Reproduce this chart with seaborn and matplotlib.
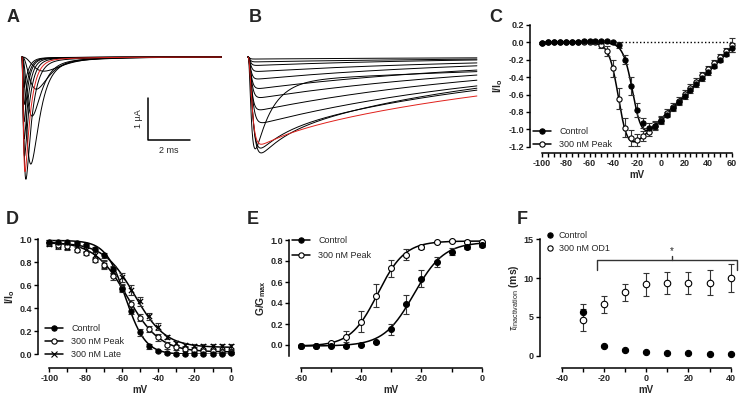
import numpy as np
import pandas as pd
import matplotlib
matplotlib.use('Agg')
import matplotlib.pyplot as plt
import seaborn as sns
from matplotlib.lines import Line2D

# ---------------- data ----------------
# A: control Na currents (peak amplitude uA, activation / inactivation time constants ms, slow tail)
a_amp = [0.3, 0.7, 1.3, 2.4, 2.8, 2.65, 2.3, 1.9, 1.5, 1.1, 0.7]
a_tm = [0.75, 0.45, 0.28, 0.22, 0.07, 0.05, 0.04, 0.035, 0.03, 0.03, 0.03]
a_th = [0.7, 0.5, 0.4, 0.4, 0.3, 0.28, 0.25, 0.22, 0.2, 0.2, 0.2]
a_slow = [0.15, 0.2, 0.25, 0.3, 0.15, 0.1, 0.08, 0.06, 0.05, 0.04, 0.03]
a_red = 5

# B: currents with 300 nM OD1
b_fast_amp = [0, 0, 0, 0, 0, 0, 0, 0, 0, 2.8, 0.3, 0.7, 0.8]
b_fast_tau = [1, 1, 1, 1, 1, 1, 1, 1, 1, 0.8, 1.5, 1.2, 1.2]
b_slow_amp = [0.05, 0.12, 0.21, 0.36, 0.55, 0.79, 1.02, 1.33, 1.67, 0.6, 2.0, 1.9, 2.0]
b_slow_tau = [12, 12.5, 10, 11.6, 11.3, 11.7, 12.6, 12.4, 12.3, 20, 14.2, 12.4, 11]
b_tm = [0.05, 0.06, 0.07, 0.08, 0.08, 0.09, 0.1, 0.1, 0.12, 0.1, 0.12, 0.13, 0.14]
b_red = 10

# C: I/V
c_v = list(range(-100, 65, 5))
c_ctrl = [-0.01, 0.0, 0.0, 0.01, 0.01, 0.01, 0.01, 0.02, 0.02, 0.02, 0.02,
          0.02, 0.0, -0.03, -0.2, -0.5, -0.78, -0.93, -0.98, -0.96, -0.9,
          -0.83, -0.76, -0.69, -0.62, -0.55, -0.48, -0.41, -0.34, -0.27, -0.2, -0.13, -0.06]
c_ctrl_err = [0.01] * 12 + [0.02, 0.03, 0.05, 0.1, 0.08, 0.06, 0.05, 0.05, 0.04] + [0.03] * 11 + [0.05]
c_peak = [-0.01, 0.0, 0.0, 0.0, 0.01, 0.01, 0.01, 0.01, 0.01, 0.0,
          -0.03, -0.1, -0.3, -0.65, -0.98, -1.1, -1.12, -1.08, -1.03, -0.96, -0.89,
          -0.81, -0.74, -0.67, -0.59, -0.52, -0.45, -0.38, -0.31, -0.24, -0.17, -0.1, -0.03]
c_peak_err = [0.01] * 10 + [0.03, 0.06, 0.1, 0.12, 0.11, 0.09, 0.07, 0.06, 0.05, 0.04, 0.04] + [0.04] * 11 + [0.08]
c_ctrl_fit = dict(g=0.0142, erev=64, v50=-23, k=4)
c_peak_fit = dict(g=0.0138, erev=64, v50=-35, k=4)
c_yticks = [-1.2, -1.0, -0.8, -0.6, -0.4, -0.2, 0.0, 0.2]
c_ylabels = ['-1.2', '-1.0', '-0.8', '-0.6', '-0.4', '-0.2', '0.0', '0.2']

# D: steady-state inactivation
d_v = list(range(-100, 5, 5))
d_ctrl = [0.98, 0.98, 0.98, 0.97, 0.95, 0.92, 0.86, 0.74, 0.57, 0.38, 0.19, 0.07, 0.03,
          0.01, 0.0, 0.0, 0.0, 0.0, 0.0, 0.0, 0.01]
d_ctrl_err = [0.01] * 6 + [0.02, 0.03, 0.03, 0.03, 0.03, 0.02, 0.01] + [0.01] * 8
d_peak = [0.97, 0.95, 0.94, 0.91, 0.88, 0.82, 0.78, 0.68, 0.58, 0.44, 0.32, 0.22, 0.15,
          0.08, 0.06, 0.05, 0.04, 0.03, 0.03, 0.02, 0.02]
d_peak_err = [0.02] * 6 + [0.03] * 8 + [0.02] * 7
d_late = [0.96, 0.94, 0.93, 0.93, 0.91, 0.86, 0.78, 0.72, 0.67, 0.56, 0.46, 0.33, 0.24,
          0.15, 0.1, 0.08, 0.07, 0.07, 0.07, 0.07, 0.07]
d_late_err = [0.02] * 5 + [0.03, 0.04, 0.04, 0.04, 0.04, 0.04, 0.03, 0.03, 0.02, 0.02] + [0.02] * 6
d_ctrl_fit = dict(top=0.99, bottom=0.0, v50=-58, k=5.5)
d_peak_fit = dict(top=0.98, bottom=0.02, v50=-57, k=9)
d_late_fit = dict(top=0.97, bottom=0.06, v50=-53, k=8.5)

# E: conductance-voltage
e_v = list(range(-60, 5, 5))
e_ctrl = [-0.01, -0.01, -0.01, -0.01, 0.0, 0.03, 0.15, 0.39, 0.63, 0.79, 0.89, 0.93, 0.95]
e_ctrl_err = [0.01, 0.01, 0.01, 0.01, 0.01, 0.01, 0.05, 0.09, 0.08, 0.05, 0.03, 0.02, 0.02]
e_peak = [-0.01, -0.01, 0.02, 0.08, 0.22, 0.47, 0.73, 0.86, 0.93, 0.98, 0.99, 0.98, 0.98]
e_peak_err = [0.01, 0.01, 0.01, 0.05, 0.1, 0.11, 0.08, 0.05, 0.02, 0.01, 0.01, 0.01, 0.01]
e_ctrl_fit = dict(top=0.98, bottom=-0.01, v50=-22.5, k=5)
e_peak_fit = dict(top=0.99, bottom=-0.01, v50=-34.5, k=4.5)

unit_ticks = [0.0, 0.2, 0.4, 0.6, 0.8, 1.0]
unit_labels = ['0.0', '0.2', '0.4', '0.6', '0.8', '1.0']

# F: inactivation time constant
f_v = [-30, -20, -10, 0, 10, 20, 30, 40]
f_ctrl = [5.6, 1.2, 0.7, 0.5, 0.4, 0.3, 0.25, 0.25]
f_ctrl_err = [1.0, 0.1, 0.05, 0.05, 0.05, 0.05, 0.05, 0.05]
f_od1 = [4.6, 6.6, 8.2, 9.2, 9.4, 9.4, 9.4, 10.0]
f_od1_err = [1.4, 1.1, 1.1, 1.5, 1.45, 1.4, 1.6, 1.8]
f_sig_x = (-23.5, 43)
f_sig_y = 12.3
f_sig_mid = 12


def iv_fit(v, g, erev, v50, k):
    return g * (v - erev) / (1 + np.exp((v50 - v) / k))


def inact_fit(v, top, bottom, v50, k):
    return bottom + (top - bottom) / (1 + np.exp((v - v50) / k))


def act_fit(v, top, bottom, v50, k):
    return bottom + (top - bottom) / (1 + np.exp((v50 - v) / k))


# ---------------- style ----------------
sns.set_style('ticks')
plt.rcParams['font.family'] = ['Liberation Sans', 'DejaVu Sans']
plt.rcParams['axes.unicode_minus'] = False
plt.rcParams['mathtext.fontset'] = 'custom'
plt.rcParams['mathtext.rm'] = 'Liberation Sans'
plt.rcParams['mathtext.bf'] = 'Liberation Sans:bold'
plt.rcParams['mathtext.it'] = 'Liberation Sans:italic'

W, H = 745, 405
fig = plt.figure(figsize=(W / 100, H / 100), dpi=100)


def place(x0, y0, x1, y1):
    return fig.add_axes([x0 / W, 1 - y1 / H, (x1 - x0) / W, (y1 - y0) / H])


def style_axes(ax, left, bottom):
    sns.despine(ax=ax, offset=dict(left=left, bottom=bottom))
    for s in ['left', 'bottom']:
        ax.spines[s].set_linewidth(1.1)
        ax.spines[s].set_color('black')
    ax.tick_params(which='both', direction='out', length=3, width=1.0, color='black',
                   labelsize=6.5, pad=1.5)
    for lab in ax.get_xticklabels() + ax.get_yticklabels():
        lab.set_fontweight('bold')
    ax.set_facecolor('none')


def points(ax, x, y, err, filled, marker='o', size=13, ecol='#333333'):
    ax.errorbar(x, y, yerr=err, fmt='none', ecolor=ecol, elinewidth=0.8,
                capsize=2, capthick=0.8, zorder=3, clip_on=False)
    df = pd.DataFrame({'x': x, 'y': y})
    if marker == 'x':
        sns.scatterplot(data=df, x='x', y='y', ax=ax, marker='x', s=size, color='black',
                        linewidth=0.9, zorder=4, clip_on=False)
    else:
        sns.scatterplot(data=df, x='x', y='y', ax=ax, marker=marker, s=size,
                        color='black' if filled else 'white', edgecolor='black',
                        linewidth=0.8, zorder=4, clip_on=False)


def fit_line(ax, v, y):
    sns.lineplot(x=v, y=y, ax=ax, color='black', lw=1.1, zorder=2)


def handle(filled, marker='o', line=True):
    return Line2D([], [], color='black', lw=1.1 if line else 0, marker=marker,
                  markersize=3.8, markerfacecolor='black' if filled else 'white',
                  markeredgecolor='black', markeredgewidth=0.8)


# ---------------- A ----------------
axA = place(0, 30, 240, 185)
t = np.linspace(0, 9.5, 800)
rows = []
for i in range(len(a_amp)):
    m3 = (1 - np.exp(-t / a_tm[i])) ** 3
    fast = m3 * np.exp(-t / a_th[i])
    cur = -(a_amp[i] * fast / fast.max() + a_slow[i] * m3 * np.exp(-t / 2.0))
    rows.append(pd.DataFrame({'t': t, 'I': cur, 'trace': i}))
dfA = pd.concat(rows)
sns.lineplot(data=dfA[dfA.trace != a_red], x='t', y='I', units='trace', estimator=None,
             color='black', lw=0.7, ax=axA)
sns.lineplot(data=dfA[dfA.trace == a_red], x='t', y='I', color='#e0201b', lw=0.7, ax=axA)
axA.set_xlim(-22 / 21, 218 / 21)
axA.set_ylim((57 - 185) / 42, (57 - 30) / 42)
axA.plot([6, 6, 8], [-0.976, -1.976, -1.976], color='black', lw=1.1)
axA.text(5.75, -1.476, '1 µA', rotation=90, ha='right', va='center', fontsize=6.5)
axA.text(7.0, -2.12, '2 ms', ha='center', va='top', fontsize=6.5)
axA.axis('off')

# ---------------- B ----------------
axB = place(240, 30, 490, 185)
t = np.linspace(0, 10.9, 900)
rows = []
for i in range(len(b_slow_amp)):
    m3 = (1 - np.exp(-t / b_tm[i])) ** 3
    cur = -m3 * (b_fast_amp[i] * np.exp(-t / b_fast_tau[i]) + b_slow_amp[i] * np.exp(-t / b_slow_tau[i]))
    rows.append(pd.DataFrame({'t': t, 'I': cur, 'trace': i}))
dfB = pd.concat(rows)
sns.lineplot(data=dfB[dfB.trace != b_red], x='t', y='I', units='trace', estimator=None,
             color='black', lw=0.7, ax=axB)
sns.lineplot(data=dfB[dfB.trace == b_red], x='t', y='I', color='#e0201b', lw=0.7, ax=axB)
axB.set_xlim(-8 / 21, 242 / 21)
axB.set_ylim((57 - 185) / 42, (57 - 30) / 42)
axB.axis('off')

# ---------------- C ----------------
axC = place(542, 25, 732, 146.7)
vv = np.linspace(-100, 60, 400)
axC.plot([-100, 60], [0, 0], ls=(0, (1, 1.6)), color='black', lw=1.0, zorder=1)
fit_line(axC, vv, iv_fit(vv, **c_ctrl_fit))
fit_line(axC, vv, iv_fit(vv, **c_peak_fit))
points(axC, c_v, c_peak, c_peak_err, False, size=14)
points(axC, c_v, c_ctrl, c_ctrl_err, True, size=14)
axC.set_xlim(-100, 60)
axC.set_ylim(-1.2, 0.2)
axC.set_xticks(range(-100, 61, 20))
axC.set_xticks(range(-100, 61, 5), minor=True)
axC.set_yticks(c_yticks)
axC.set_yticklabels(c_ylabels)
style_axes(axC, 8.6, 4.5)
axC.set_xlabel('mV', fontsize=7, fontweight='bold', labelpad=1)
axC.set_ylabel(r'$\mathbf{I/I_o}$', fontsize=7.5, labelpad=2)
axC.legend([handle(True), handle(False)], ['Control', '300 nM Peak'], loc='upper left',
           bbox_to_anchor=(533 / W, 1 - 127 / H), bbox_transform=fig.transFigure,
           frameon=False, fontsize=6.5, handlelength=2.0, handletextpad=0.9,
           labelspacing=0.45, borderpad=0, borderaxespad=0)

# ---------------- D ----------------
axD = place(49.3, 239.3, 230.7, 354.3)
vv = np.linspace(-100, 0, 300)
fit_line(axD, vv, inact_fit(vv, **d_ctrl_fit))
fit_line(axD, vv, inact_fit(vv, **d_peak_fit))
fit_line(axD, vv, inact_fit(vv, **d_late_fit))
points(axD, d_v, d_late, d_late_err, True, marker='x', size=14)
points(axD, d_v, d_peak, d_peak_err, False, size=14)
points(axD, d_v, d_ctrl, d_ctrl_err, True, size=14)
axD.set_xlim(-100, 0)
axD.set_ylim(0, 1)
axD.set_xticks(range(-100, 1, 20))
axD.set_xticks(range(-100, 1, 10), minor=True)
axD.set_yticks(unit_ticks)
axD.set_yticklabels(unit_labels)
style_axes(axD, 7.9, 9.9)
axD.set_xlabel('mV', fontsize=7, fontweight='bold', labelpad=1)
axD.set_ylabel(r'$\mathbf{I/I_o}$', fontsize=7.5, labelpad=2)
axD.legend([handle(True), handle(False), handle(True, marker='x')],
           ['Control', '300 nM Peak', '300 nM Late'], loc='upper left',
           bbox_to_anchor=(45 / W, 1 - 324 / H), bbox_transform=fig.transFigure,
           frameon=False, fontsize=6.5, handlelength=2.0, handletextpad=0.9,
           labelspacing=0.45, borderpad=0, borderaxespad=0)

# ---------------- E ----------------
axE = place(301, 240, 481.7, 355.5)
vv = np.linspace(-60, 0, 300)
fit_line(axE, vv, act_fit(vv, **e_ctrl_fit))
fit_line(axE, vv, act_fit(vv, **e_peak_fit))
points(axE, e_v, e_peak, e_peak_err, False, size=18)
points(axE, e_v, e_ctrl, e_ctrl_err, True, size=18)
axE.set_xlim(-60, 0)
axE.set_ylim(-0.1, 1.0)
axE.set_xticks(range(-60, 1, 20))
axE.set_xticks(range(-60, 1, 10), minor=True)
axE.set_yticks(unit_ticks)
axE.set_yticklabels(unit_labels)
style_axes(axE, 8.4, 9.0)
axE.set_xlabel('mV', fontsize=7, fontweight='bold', labelpad=1)
axE.set_ylabel(r'$\mathbf{G/G_{max}}$', fontsize=7.5, labelpad=2)
axE.legend([handle(True), handle(False)], ['Control', '300 nM Peak'], loc='upper left',
           bbox_to_anchor=(292 / W, 1 - 236 / H), bbox_transform=fig.transFigure,
           frameon=False, fontsize=6.5, handlelength=2.0, handletextpad=0.9,
           labelspacing=0.7, borderpad=0, borderaxespad=0)

# ---------------- F ----------------
axF = place(561.7, 239.3, 730.7, 355.7)
points(axF, f_v, f_od1, f_od1_err, False, size=22)
points(axF, f_v, f_ctrl, f_ctrl_err, True, size=20)
axF.plot([f_sig_x[0], f_sig_x[0], f_sig_x[1], f_sig_x[1]],
         [f_sig_y - 1.2, f_sig_y, f_sig_y, f_sig_y - 1.2], color='#333333', lw=1.0, clip_on=False)
axF.plot([f_sig_mid, f_sig_mid], [f_sig_y, f_sig_y + 0.5], color='#333333', lw=1.0, clip_on=False)
axF.text(f_sig_mid, f_sig_y + 0.5, '*', ha='center', va='bottom', fontsize=7)
axF.set_xlim(-40, 40)
axF.set_ylim(0, 15)
axF.set_xticks(range(-40, 41, 20))
axF.set_xticks(range(-40, 41, 10), minor=True)
axF.set_yticks([0, 5, 10, 15])
style_axes(axF, 15.6, 8.9)
axF.set_xlabel('mV', fontsize=7, fontweight='bold', labelpad=1)
axF.set_ylabel(r'$\tau_{\mathrm{inactivation}}\ \mathbf{(ms)}$', fontsize=7.5, labelpad=2)
axF.legend([handle(True, line=False), handle(False, line=False)], ['Control', '300 nM OD1'],
           loc='upper left', bbox_to_anchor=(546 / W, 1 - 231 / H), bbox_transform=fig.transFigure,
           frameon=False, fontsize=6.5, handlelength=0.8, handletextpad=0.6,
           labelspacing=0.45, borderpad=0, borderaxespad=0)

# ---------------- panel letters ----------------
for lab, x, y in [('A', 13, 18), ('B', 255, 17), ('C', 496, 17),
                  ('D', 12, 220), ('E', 253, 220), ('F', 522, 220)]:
    fig.text(x / W, 1 - y / H, lab, fontsize=13, fontweight='bold', ha='center', va='center')

plt.savefig('out.png', dpi=100)
